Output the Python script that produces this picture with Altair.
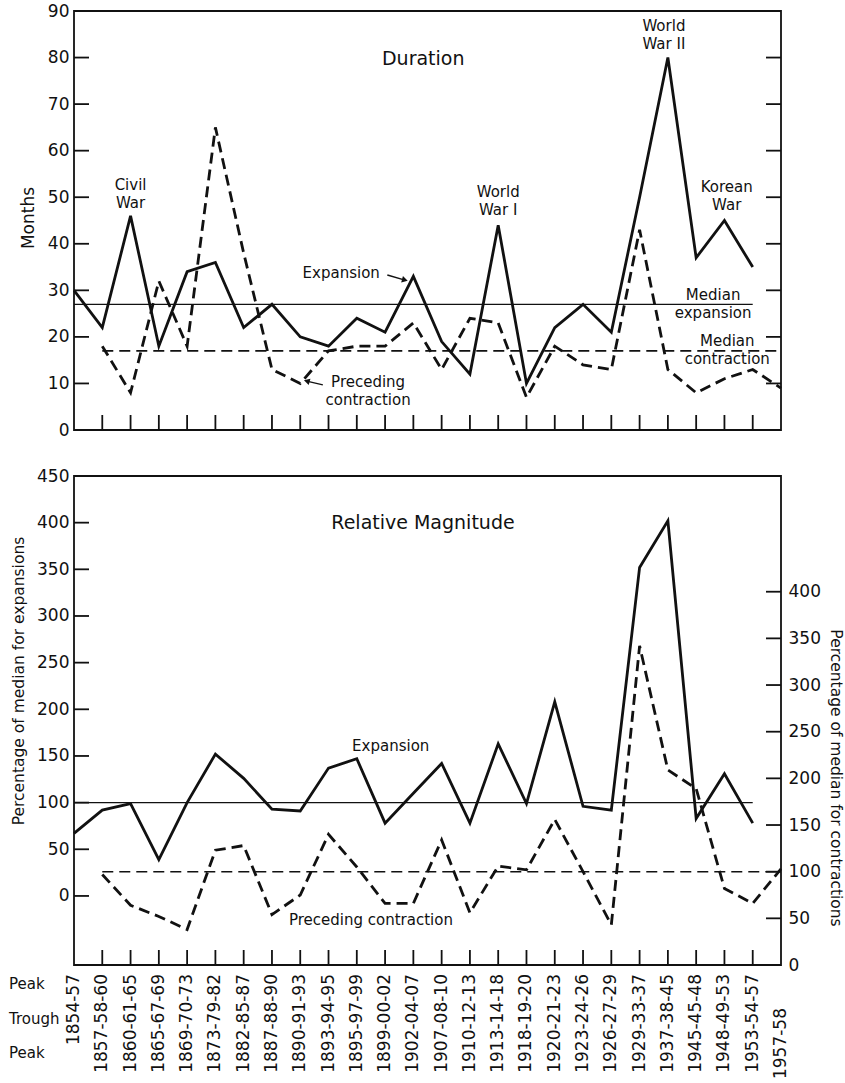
import altair as alt
import pandas as pd

# ---------------- data ----------------
periods = ["1854-57", "1857-58-60", "1860-61-65", "1865-67-69", "1869-70-73",
           "1873-79-82", "1882-85-87", "1887-88-90", "1890-91-93", "1893-94-95",
           "1895-97-99", "1899-00-02", "1902-04-07", "1907-08-10", "1910-12-13",
           "1913-14-18", "1918-19-20", "1920-21-23", "1923-24-26", "1926-27-29",
           "1929-33-37", "1937-38-45", "1945-45-48", "1948-49-53", "1953-54-57",
           "1957-58"]
# Duration (months): expansions for periods 0..24, preceding contractions for periods 1..25
exp_months = [30, 22, 46, 18, 34, 36, 22, 27, 20, 18, 24, 21, 33, 19, 12, 44, 10,
              22, 27, 21, 50, 80, 37, 45, 35]
con_months = [18, 8, 32, 18, 65, 38, 13, 10, 17, 18, 18, 23, 13, 24, 23, 7, 18,
              14, 13, 43, 13, 8, 11, 13, 9]
median_exp_months = 27
median_con_months = 17
# Relative magnitude (% of median)
exp_rel = [67, 92, 99, 39, 100, 152, 126, 93, 91, 137, 147, 78, 110, 142, 78, 163,
           99, 208, 96, 92, 352, 402, 83, 131, 78]
con_rel = [97, 64, 52, 38, 123, 128, 54, 75, 140, 105, 66, 66, 134, 56, 106, 102,
           156, 100, 43, 342, 209, 189, 82, 66, 103]
median_rel = 100

months_ticks = list(range(0, 91, 10))
left_rel_ticks = list(range(0, 451, 50))
right_rel_ticks = list(range(0, 401, 50))
row_names = ["Peak", "Trough", "Peak"]

top_notes = ["Civil\nWar", "World\nWar I", "World\nWar II", "Korean\nWar",
             "Median\nexpansion", "Median\ncontraction", "Expansion",
             "Preceding\ncontraction"]
top_notes_idx = [2.0, 15.0, 20.86, 23.08, 22.6, 23.1, 9.45, 10.4]
top_notes_val = [52.6, 51.1, 86.7, 52.1, 28.9, 19.1, 33.7, 10.3]

# ---------------- styling ----------------
W, H1, H2 = 707, 419, 489
FONT = "DejaVu Sans"
INK = "#111111"
DASH = [11, 6]
LW = 2.8

n = len(periods)
idx_all = list(range(n))

xsc = alt.Scale(domain=[0, n - 1], nice=False, zero=False)


def X(field="idx"):
    return alt.X(f"{field}:Q", scale=xsc, axis=None)


# ================= TOP PANEL: Duration =================
ysc1 = alt.Scale(domain=[0, 90], nice=False, zero=False)
ax1 = alt.Axis(values=months_ticks, ticks=False, tickSize=0, domain=False, grid=False,
               labelPadding=5, labelFontSize=17, labelFont=FONT, labelColor=INK,
               title=None)


def Y1(field="v"):
    return alt.Y(f"{field}:Q", scale=ysc1, axis=ax1)


df_exp_m = pd.DataFrame({"idx": idx_all[:len(exp_months)], "v": exp_months})
df_con_m = pd.DataFrame({"idx": idx_all[1:1 + len(con_months)], "v": con_months})

t_exp = alt.Chart(df_exp_m).mark_line(color=INK, strokeWidth=LW, strokeJoin="miter",
                                      strokeMiterLimit=4).encode(X(), Y1())
t_con = alt.Chart(df_con_m).mark_line(color=INK, strokeWidth=LW, strokeDash=DASH,
                                      strokeJoin="miter", strokeMiterLimit=4).encode(X(), Y1())

df_med_e = pd.DataFrame({"x0": [0], "x1": [len(exp_months) - 1], "v": [median_exp_months]})
df_med_c = pd.DataFrame({"x0": [1], "x1": [n - 1], "v": [median_con_months]})
t_mede = alt.Chart(df_med_e).mark_rule(color=INK, strokeWidth=1.3).encode(
    x=X("x0"), x2="x1:Q", y=Y1())
t_medc = alt.Chart(df_med_c).mark_rule(color=INK, strokeWidth=1.6, strokeDash=DASH).encode(
    x=X("x0"), x2="x1:Q", y=Y1())

df_t_ticks = pd.DataFrame({"v": months_ticks[1:-1]})
t_lt = alt.Chart(df_t_ticks).mark_rule(color=INK, strokeWidth=1.8).encode(
    y=Y1(), x=alt.value(0), x2=alt.value(15))
t_rt = alt.Chart(df_t_ticks).mark_rule(color=INK, strokeWidth=1.8).encode(
    y=Y1(), x=alt.value(W), x2=alt.value(W - 15))
df_bt = pd.DataFrame({"idx": idx_all[1:-1]})
t_bt = alt.Chart(df_bt).mark_rule(color=INK, strokeWidth=1.8).encode(
    x=X(), y=alt.value(H1), y2=alt.value(H1 - 15))

df_tn = pd.DataFrame({"t": top_notes, "idx": top_notes_idx, "v": top_notes_val})
t_notes = alt.Chart(df_tn).mark_text(font=FONT, fontSize=15, color=INK, lineBreak="\n",
                                     lineHeight=18, baseline="middle").encode(
    x=X(), y=Y1(), text="t:N")

df_title1 = pd.DataFrame({"t": ["Duration"], "idx": [12.35], "v": [79.6]})
t_title = alt.Chart(df_title1).mark_text(font=FONT, fontSize=19, color=INK).encode(
    x=X(), y=Y1(), text="t:N")

# arrows
df_arr = pd.DataFrame({"x0": [11.08, 8.80], "x1": [11.70, 8.23],
                       "v0": [33.3, 9.7], "v1": [32.2, 10.5]})
t_arr = alt.Chart(df_arr).mark_rule(color=INK, strokeWidth=1.4).encode(
    x=X("x0"), x2="x1:Q", y=Y1("v0"), y2="v1:Q")
df_head_r = df_arr.iloc[[0]]
df_head_l = df_arr.iloc[[1]]
t_hr = alt.Chart(df_head_r).mark_point(shape="triangle-right", filled=True, size=45,
                                       color=INK, opacity=1, angle=15).encode(
    x=X("x1"), y=Y1("v1"))
t_hl = alt.Chart(df_head_l).mark_point(shape="triangle-left", filled=True, size=45,
                                       color=INK, opacity=1, angle=15).encode(
    x=X("x1"), y=Y1("v1"))

df_ylab1 = pd.DataFrame({"t": ["Months"]})
t_ylab = alt.Chart(df_ylab1).mark_text(font=FONT, fontSize=17, color=INK, angle=270,
                                       baseline="middle").encode(
    text="t:N", x=alt.value(-45), y=alt.value(207))

top = alt.layer(t_mede, t_medc, t_exp, t_con, t_lt, t_rt, t_bt, t_notes, t_title,
                t_arr, t_hr, t_hl, t_ylab).properties(width=W, height=H1)

# ================= BOTTOM PANEL: Relative Magnitude =================
yscL = alt.Scale(domain=[-74, 450], nice=False, zero=False)
yscR = alt.Scale(domain=[0, 524], nice=False, zero=False)
axL = alt.Axis(values=left_rel_ticks, ticks=False, tickSize=0, domain=False, grid=False,
               labelPadding=5, labelFontSize=17, labelFont=FONT, labelColor=INK,
               title=None, orient="left")
axR = alt.Axis(values=right_rel_ticks, ticks=False, tickSize=0, domain=False, grid=False,
               labelPadding=7, labelFontSize=17, labelFont=FONT, labelColor=INK,
               title=None, orient="right")


def YL(field="v"):
    return alt.Y(f"{field}:Q", scale=yscL, axis=axL)


def YR(field="v"):
    return alt.Y(f"{field}:Q", scale=yscR, axis=axR)


df_exp_r = pd.DataFrame({"idx": idx_all[:len(exp_rel)], "v": exp_rel})
df_con_r = pd.DataFrame({"idx": idx_all[1:1 + len(con_rel)], "v": con_rel})

b_exp = alt.Chart(df_exp_r).mark_line(color=INK, strokeWidth=LW, strokeJoin="miter",
                                      strokeMiterLimit=4).encode(X(), YL())
b_mede = alt.Chart(pd.DataFrame({"x0": [0], "x1": [len(exp_rel) - 1], "v": [median_rel]})
                   ).mark_rule(color=INK, strokeWidth=1.3).encode(x=X("x0"), x2="x1:Q", y=YL())
df_bl_ticks = pd.DataFrame({"v": left_rel_ticks[:-1]})
b_lt = alt.Chart(df_bl_ticks).mark_rule(color=INK, strokeWidth=1.8).encode(
    y=YL(), x=alt.value(0), x2=alt.value(15))
b_bt = alt.Chart(df_bt).mark_rule(color=INK, strokeWidth=1.8).encode(
    x=X(), y=alt.value(H2), y2=alt.value(H2 - 15))

bottom_notes = ["Relative Magnitude", "Expansion", "Preceding contraction"]
bottom_notes_idx = [12.34, 11.2, 10.5]
bottom_notes_val = [400, 161, -26]
df_bn = pd.DataFrame({"t": bottom_notes, "idx": bottom_notes_idx, "v": bottom_notes_val})
b_title = alt.Chart(df_bn.iloc[[0]]).mark_text(font=FONT, fontSize=19, color=INK).encode(
    x=X(), y=YL(), text="t:N")
b_notes = alt.Chart(df_bn.iloc[1:]).mark_text(font=FONT, fontSize=15, color=INK).encode(
    x=X(), y=YL(), text="t:N")

# period labels below the axis
ends_in_trough = [i == n - 1 for i in idx_all]
df_per = pd.DataFrame({"idx": idx_all, "t": periods, "low": ends_in_trough})
b_per0 = alt.Chart(df_per).transform_filter("!datum.low").mark_text(
    font=FONT, fontSize=17, color=INK, angle=270, align="right", baseline="middle").encode(
    x=X(), y=alt.value(H2 + 9), text="t:N")
b_per1 = alt.Chart(df_per).transform_filter("datum.low").mark_text(
    font=FONT, fontSize=17, color=INK, angle=270, align="right", baseline="middle").encode(
    x=X(), y=alt.value(H2 + 43), text="t:N")
row_layers = []
for k, name in enumerate(row_names):
    row_layers.append(
        alt.Chart(pd.DataFrame({"t": [name]})).mark_text(
            font=FONT, fontSize=15, color=INK, align="left", baseline="middle").encode(
            text="t:N", x=alt.value(-65), y=alt.value(H2 + 19 + 34.5 * k)))

b_ylabL = alt.Chart(pd.DataFrame({"t": ["Percentage of median for expansions"]})).mark_text(
    font=FONT, fontSize=15.5, color=INK, angle=270, baseline="middle").encode(
    text="t:N", x=alt.value(-55), y=alt.value(205))
b_ylabR = alt.Chart(pd.DataFrame({"t": ["Percentage of median for contractions"]})).mark_text(
    font=FONT, fontSize=15.5, color=INK, angle=90, baseline="middle").encode(
    text="t:N", x=alt.value(W + 55), y=alt.value(302))

left_group = alt.layer(b_mede, b_exp, b_lt, b_bt, b_title, b_notes, b_per0, b_per1,
                       *row_layers, b_ylabL, b_ylabR)

b_con = alt.Chart(df_con_r).mark_line(color=INK, strokeWidth=LW, strokeDash=DASH,
                                      strokeJoin="miter", strokeMiterLimit=4).encode(X(), YR())
b_medc = alt.Chart(pd.DataFrame({"x0": [1], "x1": [n - 1], "v": [median_rel]})
                   ).mark_rule(color=INK, strokeWidth=1.6, strokeDash=DASH).encode(
    x=X("x0"), x2="x1:Q", y=YR())
df_br_ticks = pd.DataFrame({"v": right_rel_ticks[1:]})
b_rt = alt.Chart(df_br_ticks).mark_rule(color=INK, strokeWidth=1.8).encode(
    y=YR(), x=alt.value(W), x2=alt.value(W - 15))
right_group = alt.layer(b_medc, b_con, b_rt)

bottom = alt.layer(left_group, right_group).resolve_scale(y="independent").properties(
    width=W, height=H2)

chart = alt.vconcat(top, bottom, spacing=46, bounds="flush").properties(
    padding={"left": 8, "top": 1, "right": 0, "bottom": 0},
    background="white",
).configure_view(stroke=INK, strokeWidth=1.8)

chart.save("out.html", embed_options={"renderer": "svg", "actions": False})
